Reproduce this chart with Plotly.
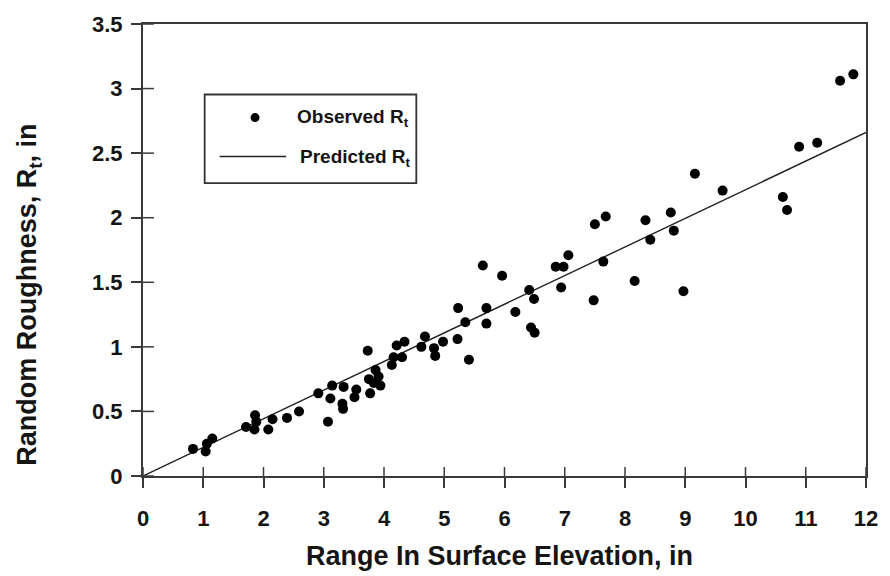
import plotly.graph_objects as go

obs_x = [0.83, 1.04, 1.06, 1.15, 1.71, 1.86, 1.88, 1.85, 2.08, 2.15, 2.39, 2.59,
         2.91, 3.07, 3.11, 3.14, 3.33, 3.31, 3.32, 3.54, 3.51, 3.73, 3.75, 3.77,
         3.86, 3.91, 3.94, 3.83, 4.13, 4.16, 4.21, 4.34, 4.30, 4.68, 4.62, 4.83,
         4.85, 4.98, 5.23, 5.35, 5.22, 5.41, 5.64, 5.96, 6.41, 6.49, 6.18, 6.44,
         6.50, 5.70, 5.70, 6.85, 6.98, 7.06, 6.94, 7.50, 7.68, 7.64, 7.48, 8.16,
         8.34, 8.42, 8.76, 8.81, 8.97, 9.16, 9.62, 10.62, 10.69, 10.89, 11.19,
         11.57, 11.79]
obs_y = [0.21, 0.19, 0.25, 0.29, 0.38, 0.47, 0.42, 0.36, 0.36, 0.44, 0.45, 0.50,
         0.64, 0.42, 0.60, 0.70, 0.69, 0.56, 0.52, 0.67, 0.61, 0.97, 0.75, 0.64,
         0.82, 0.77, 0.70, 0.72, 0.86, 0.92, 1.01, 1.04, 0.92, 1.08, 1.00, 0.99,
         0.93, 1.04, 1.30, 1.19, 1.06, 0.90, 1.63, 1.55, 1.44, 1.37, 1.27, 1.15,
         1.11, 1.30, 1.18, 1.62, 1.62, 1.71, 1.46, 1.95, 2.01, 1.66, 1.36, 1.51,
         1.98, 1.83, 2.04, 1.90, 1.43, 2.34, 2.21, 2.16, 2.06, 2.55, 2.58,
         3.06, 3.11]

# Predicted line
pred_x = [0, 12]
pred_y = [0, 2.66]

x_ticks = list(range(0, 13))
y_ticks = [0, 0.5, 1, 1.5, 2, 2.5, 3, 3.5]
y_tick_text = ["0", "0.5", "1", "1.5", "2", "2.5", "3", "3.5"]

FONT = "Liberation Sans, Arial, sans-serif"
AX = "#3a3a3a"
TXT = "#151515"

fig = go.Figure()
fig.add_trace(go.Scatter(x=pred_x, y=pred_y, mode="lines",
                         line=dict(color="#222222", width=1.4),
                         showlegend=False, hoverinfo="skip"))
fig.add_trace(go.Scatter(x=obs_x, y=obs_y, mode="markers",
                         marker=dict(color="black", size=10),
                         showlegend=False))

tickfont = dict(family=FONT, size=22, color=TXT, weight="bold")
fig.update_layout(
    width=890, height=576,
    margin=dict(l=143, r=20, t=22, b=100),
    paper_bgcolor="white", plot_bgcolor="white",
    showlegend=False,
    xaxis=dict(range=[0, 12], tickvals=x_ticks, ticks="outside", ticklen=10,
               tickwidth=1.5, tickcolor=AX, showline=True, linecolor=AX,
               linewidth=2, mirror=True, showgrid=False, zeroline=False,
               tickfont=tickfont, ticklabelstandoff=12),
    yaxis=dict(range=[0, 3.5], tickvals=y_ticks, ticktext=y_tick_text,
               ticks="outside", ticklen=10, tickwidth=1.5, tickcolor=AX,
               showline=True, linecolor=AX, linewidth=2, mirror=True,
               showgrid=False, zeroline=False, tickfont=tickfont,
               ticklabelstandoff=4),
    font=dict(family=FONT, color=TXT),
)

# inner halves of the tick marks (ticks cross the axis lines)
X_IN = 11 / 727  # ~11 px inward, in paper units
Y_IN = 9 / 454   # ~9 px inward, in paper units
for xv in x_ticks:
    fig.add_shape(type="line", xref="x", yref="paper",
                  x0=xv, x1=xv, y0=0, y1=Y_IN,
                  line=dict(color=AX, width=1.5), layer="above")
for yv in y_ticks:
    fig.add_shape(type="line", xref="paper", yref="y",
                  x0=0, x1=X_IN, y0=yv, y1=yv,
                  line=dict(color=AX, width=1.5), layer="above")

# axis titles
fig.add_annotation(text="<b>Range In Surface Elevation, in</b>",
                   xref="paper", yref="paper", x=0.4925, y=-0.176,
                   xanchor="center", yanchor="middle", showarrow=False,
                   font=dict(family=FONT, size=27, color=TXT))
fig.add_annotation(text="<b>Random Roughness, R<sub>t</sub>, in</b>",
                   xref="paper", yref="paper", x=-0.157, y=0.402,
                   xanchor="center", yanchor="middle",
                   textangle=-90, showarrow=False,
                   font=dict(family=FONT, size=27, color=TXT))

# legend box
fig.add_shape(type="rect", xref="paper", yref="paper",
              x0=0.0853, x1=0.378, y0=0.648, y1=0.844,
              line=dict(color="#333333", width=1.8), fillcolor="white")
fig.add_shape(type="circle", xref="paper", yref="paper",
              xsizemode="pixel", ysizemode="pixel",
              xanchor=0.155, yanchor=0.793, x0=-4.5, x1=4.5, y0=-4.5, y1=4.5,
              fillcolor="black", line=dict(color="black", width=0))
fig.add_shape(type="line", xref="paper", yref="paper",
              x0=0.106, x1=0.198, y0=0.707, y1=0.707,
              line=dict(color="#222222", width=1.4))
fig.add_annotation(text="<b>Observed R<sub>t</sub></b>", xref="paper", yref="paper",
                   x=0.2105, y=0.793, xanchor="left", yanchor="middle",
                   showarrow=False, font=dict(family=FONT, size=19, color=TXT))
fig.add_annotation(text="<b>Predicted R<sub>t</sub></b>", xref="paper", yref="paper",
                   x=0.214, y=0.703, xanchor="left", yanchor="middle",
                   showarrow=False, font=dict(family=FONT, size=19, color=TXT))

fig.write_html("out.html")
